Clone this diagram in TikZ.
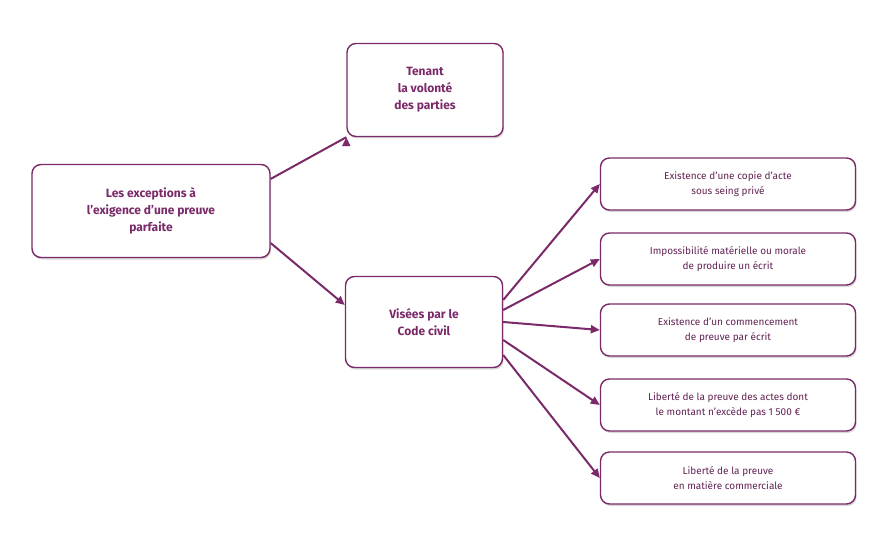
\documentclass[tikz,border=0pt]{standalone}
\usepackage{fontspec}
\setmainfont{Fira Sans}
\usetikzlibrary{shadows,arrows.meta}
\definecolor{prune}{HTML}{7A2A68}
\begin{document}
\begin{tikzpicture}[x=1pt,y=-1pt]
            \tikzstyle{box}=[draw=prune,line width=1.4pt,rounded corners=9pt,fill=white,
                drop shadow={shadow xshift=1pt,shadow yshift=-2pt,opacity=0.3},align=center]
            \tikzstyle{big}=[box,text=prune,font=\bfseries\fontsize{12}{17}\selectfont]
            \tikzstyle{small}=[box,minimum width=255pt,minimum height=52pt,text=prune!80!black,font=\fontsize{10}{15}\selectfont]
            \tikzstyle{fleche}=[draw=prune,line width=2pt,-{Triangle[length=9pt,width=8pt]}]
            \useasboundingbox (0,0) rectangle (880,540);
            \node[big,minimum width=238pt,minimum height=93pt] (exceptions) at (151,211) {Les exceptions à\\l’exigence d’une preuve\\parfaite};
            \node[big,minimum width=156pt,minimum height=93pt] (tenant) at (425,90) {Tenant\\la volonté\\des parties};
            \node[big,minimum width=157pt,minimum height=91pt] (visees) at (424,322) {Visées par le\\Code civil};
            \node[small] (copie) at (728,184) {Existence d’une copie d’acte\\sous seing privé};
            \node[small] (impossible) at (728,259) {Impossibilité matérielle ou morale\\de produire un écrit};
            \node[small] (commencement) at (728,330) {Existence d’un commencement\\de preuve par écrit};
            \node[small] (montant) at (728,405) {Liberté de la preuve des actes dont\\le montant n’excède pas 1 500 €};
            \node[small] (commerce) at (728,478) {Liberté de la preuve\\en matière commerciale};
            \draw[fleche] (exceptions.15) -- (tenant.south west) ++(0,0);
            \draw[fleche] (exceptions.-15) -- (visees.west |- 0,305);
            \draw[fleche] (visees.east |- 0,300) -- (copie.west);
            \draw[fleche] (visees.east |- 0,310) -- (impossible.west);
            \draw[fleche] (visees.east |- 0,322) -- (commencement.west);
            \draw[fleche] (visees.east |- 0,340) -- (montant.west);
            \draw[fleche] (visees.east |- 0,355) -- (commerce.west);
\end{tikzpicture}
\end{document}
